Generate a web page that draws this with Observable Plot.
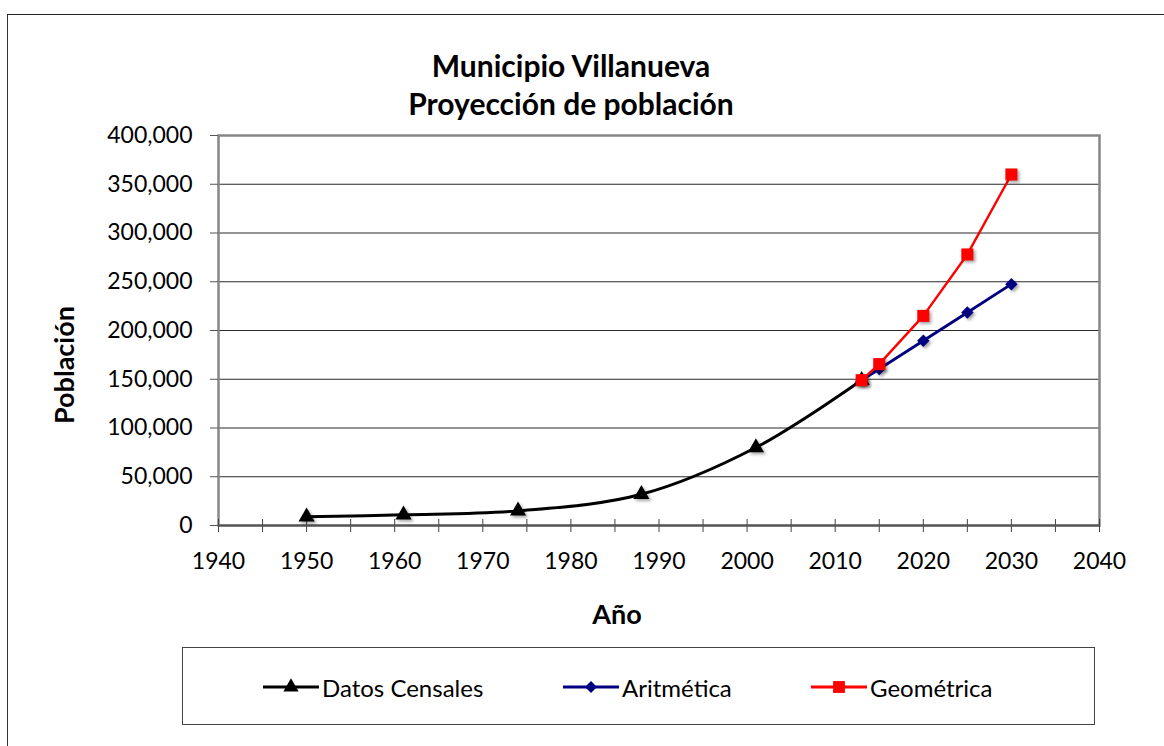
<!DOCTYPE html>
<html>
<head>
<meta charset="utf-8">
<script src="https://cdn.jsdelivr.net/npm/d3@7"></script>
<script src="https://cdn.jsdelivr.net/npm/@observablehq/plot@0.6"></script>
<style>
  body { margin: 0; background: #fff; font-family: Lato, "Open Sans", sans-serif; color: #000; }
  #wrap { position: relative; width: 1164px; height: 746px; overflow: hidden; background: #fff; }
  #frame { position: absolute; left: 7px; top: 14px; width: 1300px; height: 900px; border-left: 1.5px solid #333; border-top: 1.5px solid #222; }
  #title { position: absolute; left: 0; top: 46px; width: 1142px; text-align: center; font-weight: bold; font-size: 30px; line-height: 38px; }
  #chart { position: absolute; left: 0; top: 120px; }
  .axtitle { position: absolute; font-weight: bold; font-size: 27px; white-space: nowrap; transform: translate(-50%, -50%); }
  #ylab { left: 63px; top: 365px; transform: translate(-50%, -50%) rotate(-90deg); }
  #xlab { left: 617px; top: 613px; }
  #legend { position: absolute; left: 182px; top: 647px; width: 913px; height: 78px; border: 1px solid #444; box-sizing: border-box; background: #fff; }
  .item { position: absolute; top: 0; height: 78px; display: flex; align-items: center; font-size: 24px; white-space: nowrap; }
  .item svg { margin-right: 3px; }
  #chart g[aria-label="dot"] path { filter: drop-shadow(2px 2px 1.5px rgba(0,0,0,0.35)); }
</style>
</head>
<body>
<div id="wrap">
  <div id="frame"></div>
  <div id="title">Municipio Villanueva<br>Proyección de población</div>
  <div id="chart"></div>
  <div id="ylab" class="axtitle">Población</div>
  <div id="xlab" class="axtitle">Año</div>
  <div id="legend"></div>
</div>
<script>
// ---- data ----
const censusYears = [1950, 1961, 1974, 1988, 2001, 2013];
const censusPop   = [9000, 11000, 15000, 32000, 80000, 149000];
const projYears   = [2013, 2015, 2020, 2025, 2030];
const arithPop    = [149000, 160500, 189500, 218500, 247500];
const geoPop      = [149000, 165500, 215000, 278000, 360000];
const xTickLabels = [1940, 1950, 1960, 1970, 1980, 1990, 2000, 2010, 2020, 2030, 2040];
const xMinorTicks = [1940, 1945, 1950, 1955, 1960, 1965, 1970, 1975, 1980, 1985, 1990, 1995, 2000, 2005, 2010, 2015, 2020, 2025, 2030, 2035, 2040];
const yTicks      = [0, 50000, 100000, 150000, 200000, 250000, 300000, 350000, 400000];
const seriesNames = ["Datos Censales", "Aritmética", "Geométrica"];
const seriesColors = ["#000000", "#000080", "#ff0000"];
const seriesSymbols = ["triangle", "diamond2", "square"];

const census = censusYears.map((x, i) => ({x, y: censusPop[i]}));
const arith  = projYears.map((x, i) => ({x, y: arithPop[i]}));
const geo    = projYears.map((x, i) => ({x, y: geoPop[i]}));

const W = 1164, H = 510;
const mT = 15, mB = 105, mL = 218, mR = 65;
const innerH = H - mT - mB;

const chart = Plot.plot({
  width: W, height: H,
  marginTop: mT, marginBottom: mB, marginLeft: mL, marginRight: mR,
  style: { fontFamily: "Lato, 'Open Sans', sans-serif", fontSize: "23px", color: "#000", background: "transparent", overflow: "visible" },
  x: { domain: [1940, 2040] },
  y: { domain: [0, 400000] },
  symbol: { domain: seriesSymbols, range: seriesSymbols },
  marks: [
    Plot.gridY(yTicks, { stroke: "#2a2a2a", strokeOpacity: 1, strokeWidth: 1.2 }),
    Plot.frame({ stroke: "#868686", strokeWidth: 2.5 }),
    Plot.axisY(yTicks, { tickSize: 8, tickPadding: 18, tickFormat: d3.format(","), label: null, stroke: "#555", fill: "#000" }),
    Plot.axisX(xMinorTicks, { tickSize: 7, text: null, label: null, stroke: "#444" }),
    Plot.tickX(xMinorTicks, { x: d => d, insetTop: innerH - 6, stroke: "#444", strokeWidth: 1 }),
    Plot.axisX(xTickLabels, { tickSize: 0, tickPadding: 27, tickFormat: d => String(d), label: null, fill: "#000" }),
    Plot.ruleY([0], { stroke: "#555", strokeWidth: 2 }),
    Plot.line(census, { x: "x", y: "y", stroke: seriesColors[0], strokeWidth: 3, curve: "catmull-rom" }),
    Plot.dot(census, { x: "x", y: "y", symbol: () => seriesSymbols[0], fill: seriesColors[0], r: 6, stroke: "none" }),
    Plot.line(arith, { x: "x", y: "y", stroke: seriesColors[1], strokeWidth: 2.8 }),
    Plot.dot(arith, { x: "x", y: "y", symbol: () => seriesSymbols[1], fill: seriesColors[1], r: 5.6, stroke: "none" }),
    Plot.line(geo, { x: "x", y: "y", stroke: seriesColors[2], strokeWidth: 2.4 }),
    Plot.dot(geo, { x: "x", y: "y", symbol: () => seriesSymbols[2], fill: seriesColors[2], r: 6.8, stroke: "none" })
  ]
});
document.getElementById("chart").appendChild(chart);

// ---- legend ----
const legend = d3.select("#legend");
const itemLeft = [80, 380, 628];
const symSize = [100, 90, 140];
const d3Symbols = { triangle: d3.symbolTriangle, diamond2: d3.symbolDiamond2, square: d3.symbolSquare };
seriesNames.forEach((name, i) => {
  const it = legend.append("div").attr("class", "item").style("left", itemLeft[i] + "px");
  const svg = it.append("svg").attr("width", 56).attr("height", 20);
  svg.append("line").attr("x1", 0).attr("x2", 56).attr("y1", 10).attr("y2", 10)
    .attr("stroke", seriesColors[i]).attr("stroke-width", 3);
  svg.append("path").attr("transform", "translate(28,10)")
    .attr("d", d3.symbol(d3Symbols[seriesSymbols[i]], symSize[i])())
    .attr("fill", seriesColors[i]);
  it.append("span").text(name);
});
</script>
</body>
</html>
